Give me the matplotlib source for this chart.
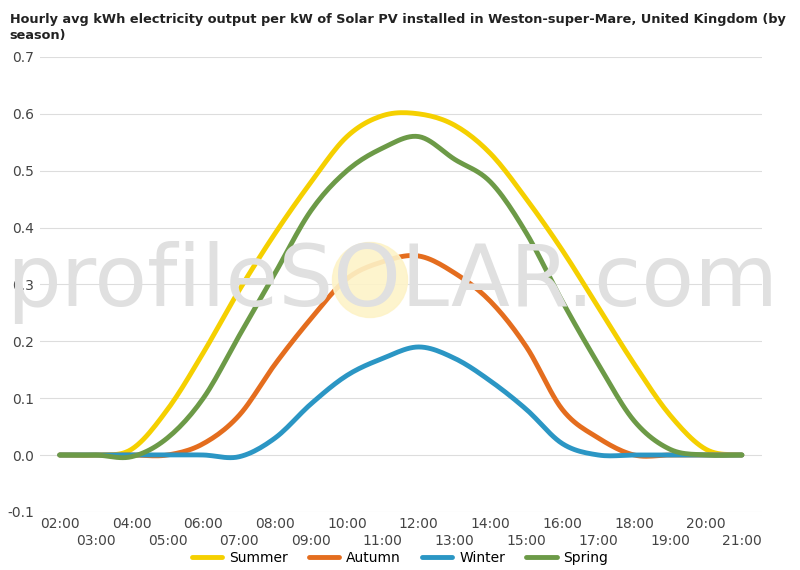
import numpy as np
import matplotlib
matplotlib.use("Agg")
import matplotlib.pyplot as plt
from matplotlib.patches import Ellipse

hours = list(range(2, 22))
summer = [0, 0, 0.01, 0.08, 0.18, 0.29, 0.39, 0.48, 0.56, 0.597, 0.60, 0.58, 0.53, 0.45, 0.36, 0.26, 0.16, 0.07, 0.01, 0]
spring = [0, 0, -0.003, 0.03, 0.10, 0.21, 0.32, 0.43, 0.50, 0.54, 0.56, 0.52, 0.48, 0.39, 0.27, 0.16, 0.06, 0.01, 0, 0]
autumn = [0, 0, 0, 0, 0.02, 0.07, 0.16, 0.24, 0.31, 0.34, 0.35, 0.32, 0.27, 0.19, 0.08, 0.03, 0, 0, 0, 0]
winter = [0, 0, 0, 0, 0, -0.003, 0.03, 0.09, 0.14, 0.17, 0.19, 0.17, 0.13, 0.08, 0.02, 0, 0, 0, 0, 0]
tick_labels = [f"{h:02d}:00" for h in hours]

def smooth(x, y, n=12):
    x = np.asarray(x, float); y = np.asarray(y, float)
    xs, ys = [], []
    for i in range(len(x) - 1):
        p0 = y[max(i - 1, 0)]; p1 = y[i]; p2 = y[i + 1]; p3 = y[min(i + 2, len(y) - 1)]
        t = np.linspace(0, 1, n, endpoint=False)
        ys.extend(0.5 * ((2 * p1) + (-p0 + p2) * t + (2 * p0 - 5 * p1 + 4 * p2 - p3) * t**2 + (-p0 + 3 * p1 - 3 * p2 + p3) * t**3))
        xs.extend(x[i] + t * (x[i + 1] - x[i]))
    xs.append(x[-1]); ys.append(y[-1])
    return np.array(xs), np.array(ys)

fig = plt.figure(figsize=(8, 5.7), dpi=100)
ax = fig.add_axes([0.05, 0.102, 0.902, 0.798])
ax.set_xlim(1.45, 21.55)
ax.set_ylim(-0.1, 0.7)
ax.set_yticks(np.arange(-0.1, 0.71, 0.1))
ax.set_yticklabels([f"{v:.1f}" for v in np.arange(-0.1, 0.71, 0.1)], fontsize=10, color="#444")
ax.grid(axis="y", color="#dddddd", lw=0.8)
ax.set_axisbelow(True)
for s in ax.spines.values():
    s.set_visible(False)
ax.tick_params(length=0, pad=4)
ax.set_xticks(hours)
ax.set_xticklabels([("" if i % 2 == 0 else "\n") + l for i, l in enumerate(tick_labels)], fontsize=10, color="#444", linespacing=1.2)

# watermark
fig.patches.append(Ellipse((370 / 800, 1 - 280 / 570), 75 / 800, 75 / 570, transform=fig.transFigure,
                           color="#fdf3c8", alpha=0.9, zorder=0))
fig.text(0.49, 1 - 283 / 570, "profileSOLAR.com", fontsize=62, color="#e0e0e0", ha="center", va="center", zorder=0)

for data, c, name in [(summer, "#f5d000", "Summer"), (autumn, "#e46d1e", "Autumn"), (winter, "#2b96c4", "Winter"), (spring, "#6c9a47", "Spring")]:
    xs, ys = smooth(hours, data)
    ax.plot(xs, ys, color=c, lw=3.5, label=name, solid_capstyle="round")
ax.patch.set_alpha(0)

ax.legend(loc="center", bbox_to_anchor=(0.5, 1 - 558 / 570), bbox_transform=fig.transFigure, ncol=4, frameon=False, fontsize=10,
          handlelength=2.2, columnspacing=1.5, handletextpad=0.5, borderpad=0)
fig.text(0.012, 0.978, "Hourly avg kWh electricity output per kW of Solar PV installed in Weston-super-Mare, United Kingdom (by\nseason)",
         fontsize=9.3, fontweight="bold", va="top", ha="left", color="#222", linespacing=1.3)
fig.savefig("out.png", dpi=100, facecolor="white")
